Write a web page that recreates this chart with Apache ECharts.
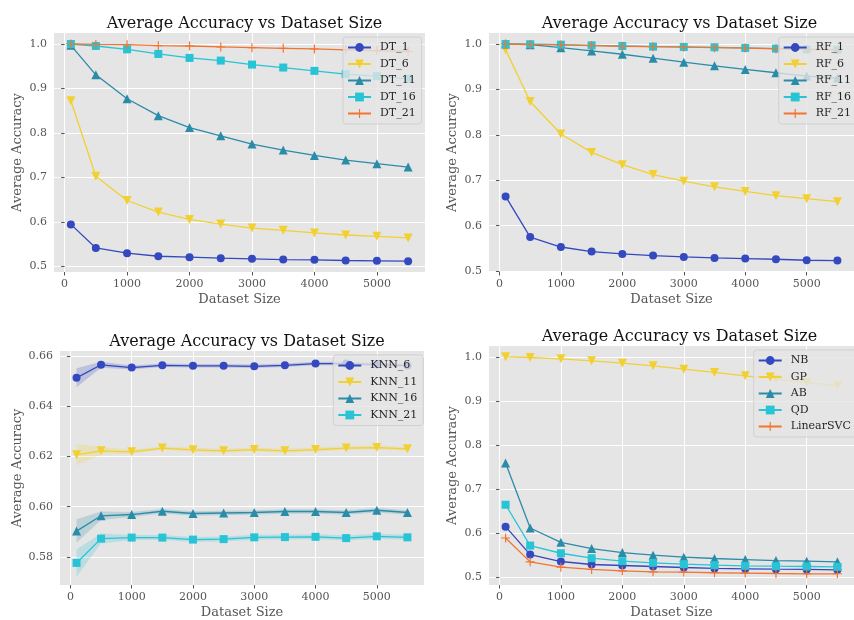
<!DOCTYPE html>
<html><head><meta charset="utf-8">
<script src="https://cdn.jsdelivr.net/npm/echarts@6/dist/echarts.min.js"></script>
<style>html,body{margin:0;padding:0;background:#fff}#c{width:854px;height:620px}</style>
</head><body><div id="c"></div>
<script>
// ---- data ----
const sizes = [100, 500, 1000, 1500, 2000, 2500, 3000, 3500, 4000, 4500, 5000, 5500];
const xTicks = [0, 1000, 2000, 3000, 4000, 5000];
const yTicksTop = [0.5, 0.6, 0.7, 0.8, 0.9, 1.0];
const yTicksKnn = [0.58, 0.60, 0.62, 0.64, 0.66];
const chartTitle = 'Average Accuracy vs Dataset Size';
const xLabel = 'Dataset Size';
const yLabel = 'Average Accuracy';

const dtNames = ['DT_1', 'DT_6', 'DT_11', 'DT_16', 'DT_21'];
const dt1  = [0.5946, 0.5417, 0.5298, 0.5230, 0.5209, 0.5186, 0.5171, 0.5156, 0.5149, 0.5134, 0.5127, 0.5119];
const dt6  = [0.8726, 0.7027, 0.6483, 0.6222, 0.6058, 0.5954, 0.5864, 0.5812, 0.5753, 0.5708, 0.5678, 0.5641];
const dt11 = [0.9970, 0.9307, 0.8770, 0.8390, 0.8122, 0.7936, 0.7750, 0.7615, 0.7496, 0.7392, 0.7310, 0.7235];
const dt16 = [1.0000, 0.9955, 0.9880, 0.9776, 0.9687, 0.9627, 0.9538, 0.9471, 0.9396, 0.9322, 0.9277, 0.9218];
const dt21 = [1.0000, 0.9990, 0.9985, 0.9963, 0.9955, 0.9933, 0.9918, 0.9903, 0.9888, 0.9866, 0.9851, 0.9836];

const rfNames = ['RF_1', 'RF_6', 'RF_11', 'RF_16', 'RF_21'];
const rf1  = [0.6645, 0.5750, 0.5531, 0.5430, 0.5378, 0.5342, 0.5313, 0.5291, 0.5277, 0.5262, 0.5240, 0.5233];
const rf6  = [0.9876, 0.8734, 0.8020, 0.7613, 0.7344, 0.7125, 0.6980, 0.6856, 0.6754, 0.6660, 0.6594, 0.6528];
const rf11 = [1.0000, 0.9985, 0.9920, 0.9847, 0.9774, 0.9687, 0.9600, 0.9520, 0.9440, 0.9367, 0.9294, 0.9250];
const rf16 = [1.0000, 0.9995, 0.9985, 0.9970, 0.9956, 0.9942, 0.9935, 0.9927, 0.9913, 0.9898, 0.9884, 0.9876];
const rf21 = [1.0000, 0.9990, 0.9980, 0.9965, 0.9950, 0.9940, 0.9930, 0.9920, 0.9910, 0.9895, 0.9880, 0.9872];

const knnNames = ['KNN_6', 'KNN_11', 'KNN_16', 'KNN_21'];
const knn6  = [0.6514, 0.6566, 0.6555, 0.6564, 0.6562, 0.6562, 0.6560, 0.6564, 0.6571, 0.6571, 0.6567, 0.6563];
const knn11 = [0.6207, 0.6223, 0.6219, 0.6234, 0.6227, 0.6223, 0.6228, 0.6223, 0.6228, 0.6234, 0.6236, 0.6231];
const knn16 = [0.5903, 0.5964, 0.5969, 0.5982, 0.5973, 0.5975, 0.5977, 0.5981, 0.5981, 0.5977, 0.5986, 0.5977];
const knn21 = [0.5776, 0.5873, 0.5877, 0.5877, 0.5869, 0.5871, 0.5878, 0.5879, 0.5880, 0.5875, 0.5882, 0.5878];
const knn6Err  = [0.0038, 0.0012, 0.0008, 0.0007, 0.0007, 0.0007, 0.0007, 0.0007, 0.0007, 0.0007, 0.0007, 0.0007];
const knn11Err = [0.0043, 0.0015, 0.0008, 0.0008, 0.0008, 0.0008, 0.0008, 0.0008, 0.0008, 0.0008, 0.0008, 0.0008];
const knn16Err = [0.0047, 0.0017, 0.0010, 0.0009, 0.0009, 0.0009, 0.0009, 0.0009, 0.0009, 0.0009, 0.0009, 0.0009];
const knn21Err = [0.0055, 0.0020, 0.0010, 0.0010, 0.0010, 0.0010, 0.0010, 0.0010, 0.0010, 0.0010, 0.0010, 0.0010];

const otherNames = ['NB', 'GP', 'AB', 'QD', 'LinearSVC'];
const nb   = [0.6139, 0.5505, 0.5347, 0.5279, 0.5256, 0.5234, 0.5211, 0.5189, 0.5181, 0.5173, 0.5166, 0.5158];
const gp   = [1.0000, 0.9985, 0.9955, 0.9910, 0.9857, 0.9796, 0.9721, 0.9646, 0.9570, 0.9495, 0.9419, 0.9344];
const ab   = [0.7587, 0.6109, 0.5784, 0.5641, 0.5550, 0.5490, 0.5445, 0.5415, 0.5392, 0.5369, 0.5354, 0.5339];
const qd   = [0.6637, 0.5709, 0.5535, 0.5422, 0.5354, 0.5317, 0.5287, 0.5264, 0.5249, 0.5241, 0.5234, 0.5226];
const lsvc = [0.5882, 0.5339, 0.5219, 0.5166, 0.5136, 0.5113, 0.5106, 0.5091, 0.5083, 0.5075, 0.5068, 0.5068];

// ---- style ----
const FONT = 'DejaVu Serif';
const COLORS = ['#3448c0', '#f2d032', '#2a8ca8', '#27c4d6', '#f27430'];
const MARKERS = [
  { symbol: 'circle', size: 8, rotate: 0 },
  { symbol: 'triangle', size: 9, rotate: 180 },
  { symbol: 'triangle', size: 9, rotate: 0 },
  { symbol: 'rect', size: 8, rotate: 0 },
  { symbol: 'path://M-0.13,-1H0.13V1H-0.13Z M-1,-0.13H1V0.13H-1Z', size: 9, rotate: 0 }
];

const grids = [
  { left: 54, top: 33, width: 371, height: 239 },
  { left: 489, top: 33, width: 371, height: 239 },
  { left: 60, top: 351, width: 364, height: 235 },
  { left: 489, top: 346, width: 371, height: 240 }
];
const yRanges = [[0.4876, 1.0247], [0.4981, 1.0242], [0.5688, 0.6621], [0.4813, 1.0247]];
const yGaps = [30, 30, 36, 30];

function pairs(arr) { return sizes.map((x, j) => [x, arr[j]]); }

function lineSeries(name, arr, idx, ci, mi) {
  const m = MARKERS[mi];
  return {
    type: 'line', name, xAxisIndex: idx, yAxisIndex: idx,
    data: pairs(arr),
    symbol: m.symbol, symbolSize: m.size, symbolRotate: m.rotate,
    showSymbol: true,
    lineStyle: { color: COLORS[ci], width: 1.3 },
    itemStyle: { color: COLORS[ci], borderWidth: 0 },
    emphasis: { disabled: true },
    z: 3
  };
}

function bandSeries(name, mean, err, idx, ci) {
  return {
    type: 'custom', name: name + '_band', xAxisIndex: idx, yAxisIndex: idx,
    data: [[sizes[0], mean[0]]], silent: true, z: 2,
    renderItem: function (params, api) {
      const up = sizes.map((x, j) => api.coord([x, mean[j] + err[j]]));
      const lo = sizes.map((x, j) => api.coord([x, mean[j] - err[j]])).reverse();
      return {
        type: 'polygon',
        shape: { points: up.concat(lo) },
        style: { fill: COLORS[ci], opacity: 0.22 }
      };
    }
  };
}

const series = [];
[dt1, dt6, dt11, dt16, dt21].forEach((a, i) => series.push(lineSeries(dtNames[i], a, 0, i, i)));
[rf1, rf6, rf11, rf16, rf21].forEach((a, i) => series.push(lineSeries(rfNames[i], a, 1, i, i)));
const knnData = [knn6, knn11, knn16, knn21];
const knnErr = [knn6Err, knn11Err, knn16Err, knn21Err];
knnData.forEach((a, i) => series.push(bandSeries(knnNames[i], a, knnErr[i], 2, i)));
knnData.forEach((a, i) => series.push(lineSeries(knnNames[i], a, 2, i, i)));
[nb, gp, ab, qd, lsvc].forEach((a, i) => series.push(lineSeries(otherNames[i], a, 3, i, i)));

const titleCenters = [[239.5, 11], [674.5, 11], [242, 329], [674.5, 324]];
const titles = titleCenters.map(c => ({
  text: chartTitle, left: c[0], top: c[1], textAlign: 'center',
  textStyle: { fontFamily: FONT, fontSize: 16, fontWeight: 'normal', color: '#111' }
}));

const xAxes = grids.map((g, i) => ({
  type: 'value', gridIndex: i, min: -170, max: 5770,
  name: xLabel, nameLocation: 'middle', nameGap: 21,
  nameTextStyle: { fontFamily: FONT, fontSize: 13, color: '#555' },
  axisLine: { show: false },
  axisTick: { show: true, length: 3.5, customValues: xTicks, lineStyle: { color: '#555', width: 1 } },
  axisLabel: { customValues: xTicks, fontFamily: FONT, fontSize: 11, color: '#555', margin: 7,
    formatter: v => String(Math.round(v)) },
  splitLine: { show: true, lineStyle: { color: '#fff', width: 1 } }
}));

const yAxes = grids.map((g, i) => {
  const ticks = i === 2 ? yTicksKnn : yTicksTop;
  const dec = i === 2 ? 2 : 1;
  return {
    type: 'value', gridIndex: i, min: yRanges[i][0], max: yRanges[i][1],
    name: yLabel, nameLocation: 'middle', nameGap: yGaps[i],
    nameTextStyle: { fontFamily: FONT, fontSize: 13, color: '#555' },
    axisLine: { show: false },
    axisTick: { show: true, length: 3.5, customValues: ticks, lineStyle: { color: '#555', width: 1 } },
    axisLabel: { customValues: ticks, fontFamily: FONT, fontSize: 11, color: '#555', margin: 7,
      formatter: v => Number(v).toFixed(dec) },
    splitLine: { show: true, lineStyle: { color: '#fff', width: 1 } }
  };
});

const legendPos = [[343, 37], [778.7, 37], [333.3, 355], [753.7, 350]];
const legendData = [dtNames, rfNames, knnNames, otherNames];
const legends = legendPos.map((p, i) => ({
  data: legendData[i], left: p[0], top: p[1], orient: 'vertical',
  itemWidth: 23, itemHeight: 11, itemGap: 5.5,
  padding: [5, 6, 5, 4],
  backgroundColor: 'rgba(229,229,229,0.8)', borderColor: 'rgba(204,204,204,0.8)', borderWidth: 1, borderRadius: 3,
  textStyle: { fontFamily: FONT, fontSize: 11, color: '#262626', padding: [0, 0, 0, 4] },
  selectedMode: false, z: 10
}));

const chart = echarts.init(document.getElementById('c'), null, { renderer: 'canvas' });
chart.setOption({
  animation: false,
  backgroundColor: '#fff',
  title: titles,
  grid: grids.map(g => Object.assign({ show: true, backgroundColor: '#E5E5E5', borderWidth: 0 }, g)),
  xAxis: xAxes,
  yAxis: yAxes,
  legend: legends,
  series
});
</script>
</body></html>
